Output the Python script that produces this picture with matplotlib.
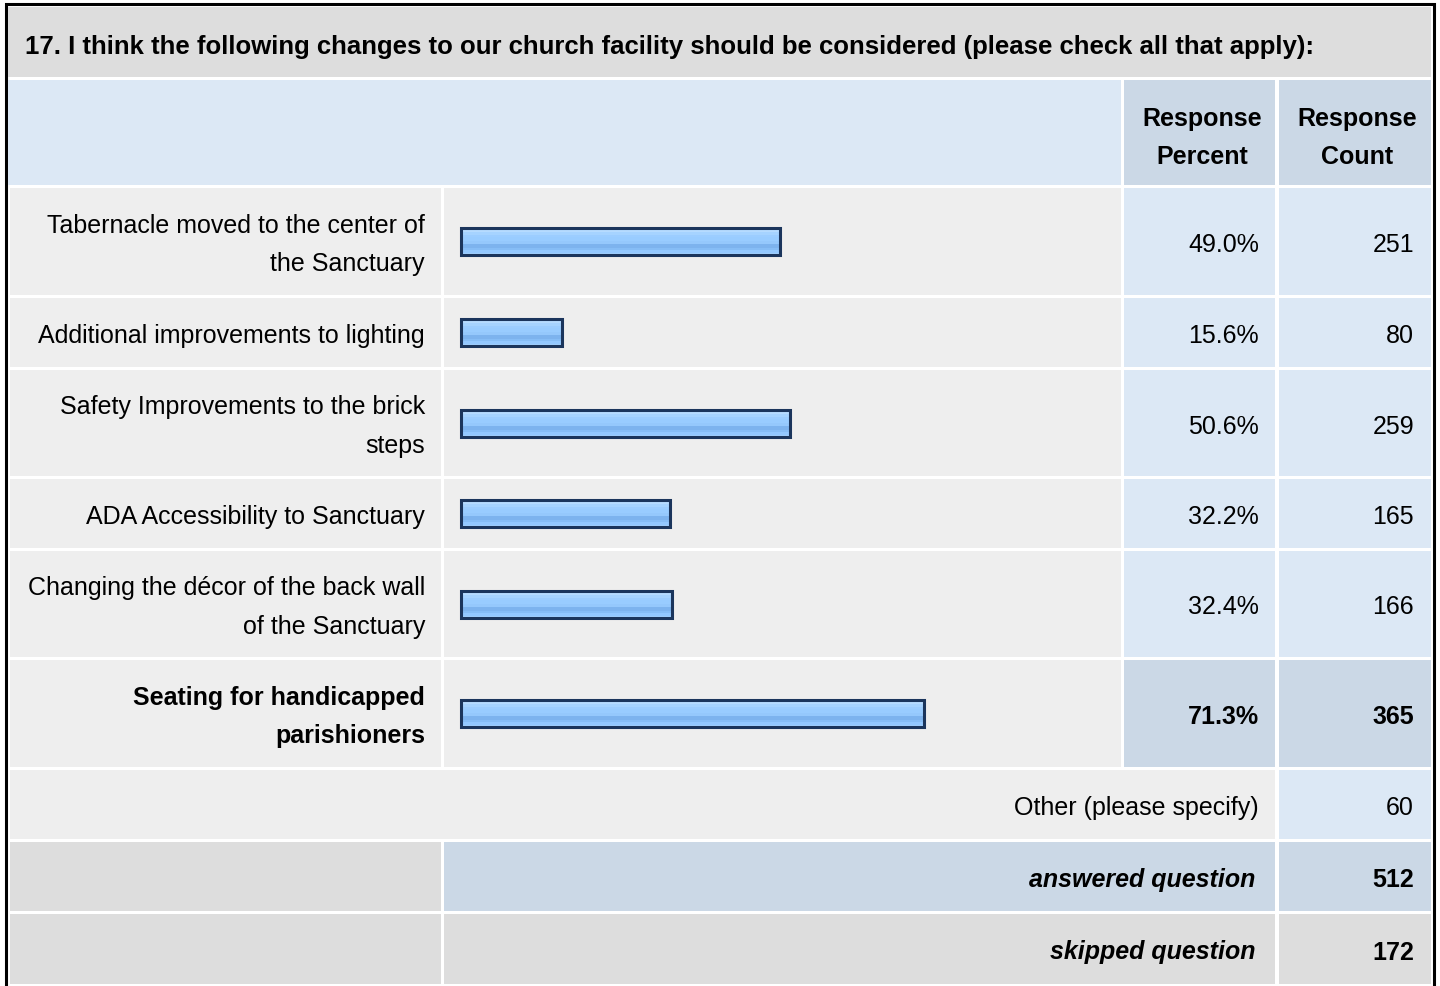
"""
Survey question 17 results table, redrawn with matplotlib.
"""

import numpy as np
import matplotlib.pyplot as plt
from matplotlib.patches import Rectangle
from matplotlib.colors import to_rgb

question = ("17. I think the following changes to our church facility should be "
            "considered (please check all that apply):")
choices = [
    "Tabernacle moved to the center of\nthe Sanctuary",
    "Additional improvements to lighting",
    "Safety Improvements to the brick\nsteps",
    "ADA Accessibility to Sanctuary",
    "Changing the décor of the back wall\nof the Sanctuary",
    "Seating for handicapped\nparishioners",
]
percents = [49.0, 15.6, 50.6, 32.2, 32.4, 71.3]
counts = [251, 80, 259, 165, 166, 365]
other_label = "Other (please specify)"
other_count = 60
answered_count = 512
skipped_count = 172

plt.rcParams["font.family"] = ["Liberation Sans", "DejaVu Sans"]

GRAY = "#dddddd"
LIGHT = "#eeeeee"
BLUE = "#dce8f5"
BLUE_DARK = "#cbd8e6"
FS = 18
LS = 1.74
DY = 2.5  # nudge text down to sit like the original

fig = plt.figure(figsize=(14.4, 9.87), dpi=100)
ax = fig.add_axes([0, 0, 1, 1])
ax.set_xlim(0, 1440)
ax.set_ylim(987, 0)
ax.axis("off")

# column edges (pixels)
c_label = (10, 441)
c_bar = (444, 1121)
c_pct = (1124, 1275)
c_cnt = (1279, 1431)

# row edges (pixels)
title_row = (8, 78)
head_row = (81, 186)
choice_rows = [(189, 296), (299, 368), (371, 477), (480, 549), (552, 658), (661, 768)]
other_row = (771, 840)
answered_row = (843, 912)
skipped_row = (915, 985)


def cell(cols, rows, color):
    ax.add_patch(Rectangle((cols[0], rows[0]), cols[1] - cols[0], rows[1] - rows[0],
                           facecolor=color, edgecolor="none", zorder=1))


def mid(r):
    return (r[0] + r[1]) / 2 + DY


# outer border
ax.add_patch(Rectangle((5.5, 4.5), 1428, 990, facecolor="white",
                       edgecolor="black", linewidth=2.2, zorder=0))

# title
cell((8, 1431), title_row, GRAY)
ax.text(25, 54, question, fontsize=18.5, fontweight="bold",
        ha="left", va="baseline", zorder=3)

# header
cell((8, 1121), head_row, BLUE)
cell(c_pct, head_row, BLUE_DARK)
cell(c_cnt, head_row, BLUE_DARK)
ax.text(mid(c_pct), mid(head_row) + 2, "Response\nPercent", fontsize=FS, fontweight="bold",
        ha="center", va="center", linespacing=1.74, zorder=3)
ax.text(mid(c_cnt), mid(head_row) + 2, "Response\nCount", fontsize=FS, fontweight="bold",
        ha="center", va="center", linespacing=1.74, zorder=3)

# choice rows
top_idx = int(np.argmax(percents))
bar_x0 = 461
px_per_pct = 6.5
grad = ["#c9e3ff", "#b6dbff", "#a6d3ff", "#9ccdff", "#99ccff", "#99ccff",
        "#95c8fc", "#7db3ee", "#7db3ee", "#86bdf6", "#93c8ff", "#a0d0ff"]
grad_img = np.array([to_rgb(c) for c in grad])[:, None, :]

for i, (label, pct, cnt, rows) in enumerate(zip(choices, percents, counts, choice_rows)):
    hi = i == top_idx
    weight = "bold" if hi else "normal"
    cell(c_label, rows, LIGHT)
    cell(c_bar, rows, LIGHT)
    cell(c_pct, rows, BLUE_DARK if hi else BLUE)
    cell(c_cnt, rows, BLUE_DARK if hi else BLUE)
    y = mid(rows)
    ax.text(425, y, label, fontsize=FS, fontweight=weight, ha="right", va="center",
            linespacing=LS, zorder=3)
    ax.text(1259, y, f"{pct:.1f}%", fontsize=FS, fontweight=weight, ha="right",
            va="center", zorder=3)
    ax.text(1414, y, f"{cnt}", fontsize=FS, fontweight=weight, ha="right",
            va="center", zorder=3)
    bars = ax.barh(y - DY, pct * px_per_pct, left=bar_x0, height=27, color="#99ccff",
                   edgecolor="#1b355c", linewidth=2.2, zorder=4)
    b = bars[0]
    ax.imshow(grad_img, extent=(b.get_x(), b.get_x() + b.get_width(),
                                b.get_y() + b.get_height(), b.get_y()),
              aspect="auto", origin="upper", zorder=3.5, interpolation="nearest")
    b.set_facecolor("none")

# other row
cell((10, 1275), other_row, LIGHT)
cell(c_cnt, other_row, BLUE)
ax.text(1259, mid(other_row), other_label, fontsize=FS, ha="right", va="center", zorder=3)
ax.text(1414, mid(other_row), f"{other_count}", fontsize=FS, ha="right", va="center", zorder=3)

# answered / skipped rows
cell(c_label, answered_row, GRAY)
cell((444, 1275), answered_row, BLUE_DARK)
cell(c_cnt, answered_row, BLUE_DARK)
ax.text(1255, mid(answered_row), "answered question", fontsize=FS, fontweight="bold",
        fontstyle="italic", ha="right", va="center", zorder=3)
ax.text(1414, mid(answered_row), f"{answered_count}", fontsize=FS, fontweight="bold",
        ha="right", va="center", zorder=3)

cell(c_label, skipped_row, GRAY)
cell((444, 1275), skipped_row, GRAY)
cell(c_cnt, skipped_row, GRAY)
ax.text(1255, mid(skipped_row), "skipped question", fontsize=FS, fontweight="bold",
        fontstyle="italic", ha="right", va="center", zorder=3)
ax.text(1414, mid(skipped_row), f"{skipped_count}", fontsize=FS, fontweight="bold",
        ha="right", va="center", zorder=3)

ax.set_xlim(0, 1440)
ax.set_ylim(987, 0)
fig.savefig("out.png", dpi=100)
